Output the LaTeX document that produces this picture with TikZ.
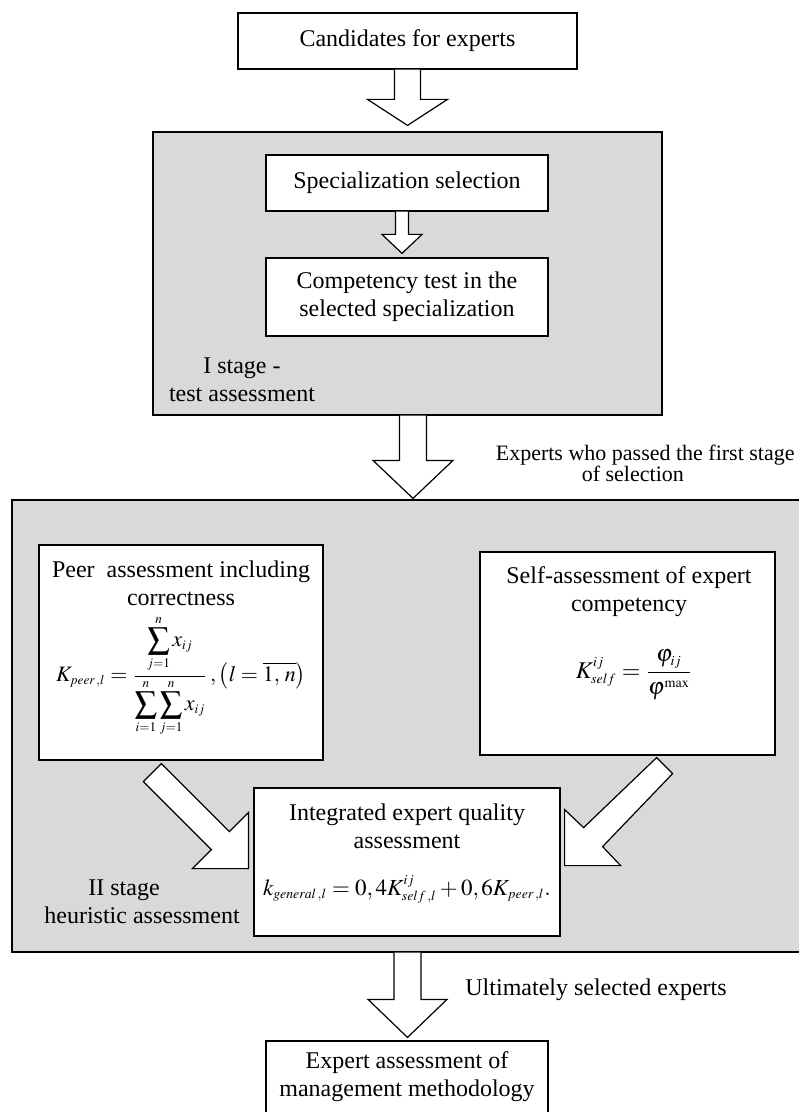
\documentclass[tikz,border=0pt]{standalone}
\usepackage{mathptmx}
\usepackage[no-math]{fontspec}
\setmainfont{Liberation Serif}
\usetikzlibrary{calc}
\definecolor{panelgrey}{RGB}{217,217,217}
\newcommand\tsub[1]{{\scriptscriptstyle #1}}
\tikzset{
  box/.style={draw, line width=0.6pt, fill=white, inner sep=0pt, align=center, font=\fontsize{12}{14}\selectfont},
  panel/.style={draw, line width=0.6pt, fill=panelgrey, inner sep=0pt},
  lbl/.style={inner sep=0pt, font=\fontsize{12}{14}\selectfont},
  blockarrow/.style={draw, line width=0.6pt, fill=white, line join=miter},
}
\newcommand\vblock[5]{%
 \draw[blockarrow] let \p1=(#1), \p2=(#2) in
  (\x1-#3*0.5pt,\y1) -- (\x1-#3*0.5pt,\y2+#5*0.5pt) -- (\x1-#4*0.5pt,\y2+#5*0.5pt) -- (\x1,\y2)
  -- (\x1+#4*0.5pt,\y2+#5*0.5pt) -- (\x1+#3*0.5pt,\y2+#5*0.5pt) -- (\x1+#3*0.5pt,\y1);
}
\begin{document}
\begin{tikzpicture}[x=0.5pt,y=-0.5pt]
\useasboundingbox (0,0) rectangle (798,1112);

% top box
\node[box, minimum width=169.5pt, minimum height=28pt] (cand) at (407.5,41) {Candidates for experts};

% stage I panel
\node[panel, minimum width=254.5pt, minimum height=141.5pt] (stageI) at (407.5,273.5) {};
\node[box, minimum width=141pt, minimum height=28pt] (spec) at (407,183) {Specialization selection};
\node[box, minimum width=141pt, minimum height=39pt] (comp) at (407,297) {Competency test in the\\selected specialization};
\node[lbl, align=center] (lblI) at (242,380) {I stage -\\test assessment};

\vblock{cand.south}{$(stageI.north)+(0,-6)$}{13}{40}{26}
\vblock{$(spec.south)+(-5,0)$}{$(comp.north)+(0,-4)$}{6.5}{20}{19}

% stage II panel
\node[panel, minimum width=395.5pt, minimum height=226pt] (stageII) at (407.5,726) {};

\vblock{$(stageI.south)+(5.5,0)$}{$(stageII.north)+(0,-1)$}{13.5}{40}{38}

\node[lbl, align=left, anchor=east, font=\fontsize{11}{13}\selectfont] (lblpass) at (795,463)
  {Experts who passed the first stage\\[-2.5pt]\hspace*{43pt}of selection};

% peer box
\node[box, minimum width=142pt, minimum height=107.5pt] (peer) at (181,652.5) {};
\node[lbl, align=center] (peerT) at (181,583) {Peer\ \ assessment including\\correctness};
\node[lbl, font=\fontsize{11}{13}\selectfont] (peerF) at (181,676) {$\displaystyle K_{\tsub{peer\,,l}}=\frac{\displaystyle\sum_{\tsub{j=1}}^{\tsub{n}}x_{\tsub{ij}}}{\displaystyle\sum_{\tsub{i=1}}^{\tsub{n}}\sum_{\tsub{j=1}}^{\tsub{n}}x_{\tsub{ij}}}\,,\left(l=\overline{1,\,n}\right)$};

% self box
\node[box, minimum width=147.5pt, minimum height=101.5pt] (self) at (627.5,653.5) {};
\node[lbl, align=center] (selfT) at (629,591.5) {Self-assessment of expert\\competency};
\node[lbl] (selfF) at (634,675) {$\displaystyle K^{\tsub{ij}}_{\tsub{self}}=\frac{\varphi_{\tsub{ij}}}{\varphi^{\tsub{\max}}}$};

% integrated box
\node[box, minimum width=153pt, minimum height=74pt] (integ) at (407,862) {};
\node[lbl, align=center] (integT) at (407,826.5) {Integrated expert quality\\assessment};
\node[lbl, anchor=base, font=\fontsize{11.5}{13}\selectfont] (integF) at (407,895) {$k_{\tsub{general\,,l}}=0,4K^{\tsub{ij}}_{\tsub{self\,,l}}+0,6K_{\tsub{peer\,,l}}.$};

\node[lbl, align=left, anchor=west] (lblII) at (44,902) {\hspace*{22pt}II stage\\heuristic assessment};

% diagonal block arrows
\coordinate (lt) at ($(integ.south west)+(-5,-68)$);
\begin{scope}[shift={(lt)}]
\draw[blockarrow] (-87,-105) -- (-19,-37) -- (0,-56) -- (0,0) -- (-56,0) -- (-37,-19) -- (-105,-87) -- cycle;
\end{scope}
\coordinate (rt) at ($(integ.south east)+(4,-71)$);
\begin{scope}[shift={(rt)}]
\draw[blockarrow] (92,-108) -- (19,-38) -- (0,-56) -- (0,0) -- (56,0) -- (38,-19) -- (108,-92) -- cycle;
\end{scope}

% final
\node[box, minimum width=141pt, minimum height=36pt] (final) at (407,1077) {Expert assessment of\\management methodology};
\vblock{stageII.south}{$(final.north)+(0,-3)$}{13.5}{39.5}{38}
\node[lbl, anchor=west] (lblult) at (465,990) {Ultimately selected experts};
\end{tikzpicture}
\end{document}
